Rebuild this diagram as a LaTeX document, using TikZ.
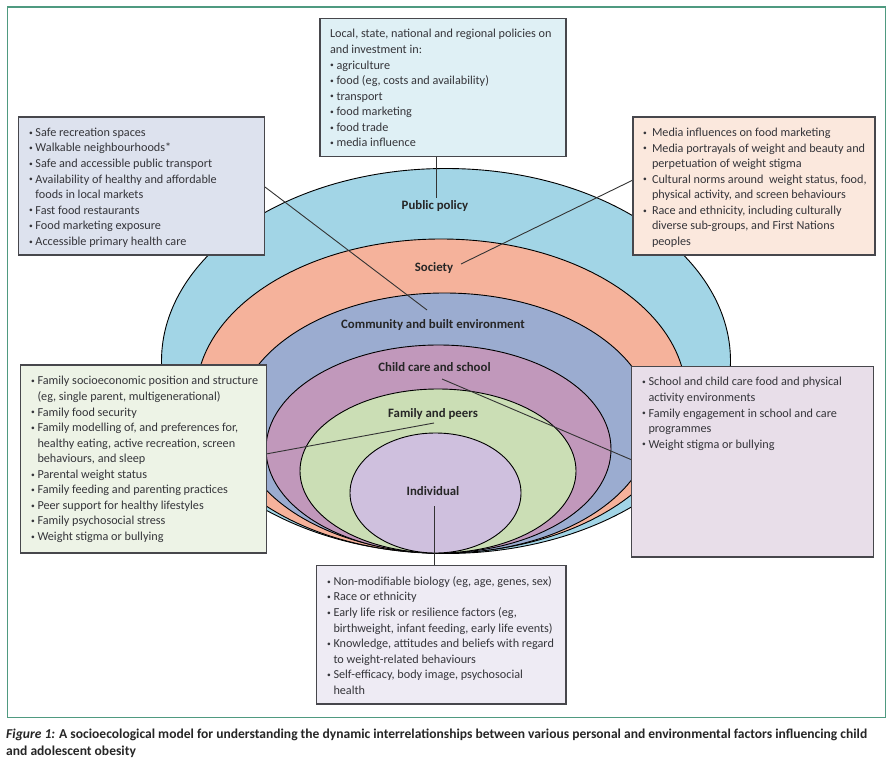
\documentclass[tikz,border=0pt]{standalone}
\usepackage{fontspec}
\setmainfont{Carlito}
\usetikzlibrary{shapes.geometric}
\definecolor{frameC}{HTML}{4F9A80}
\definecolor{inkC}{HTML}{35353A}
\definecolor{edgeC}{HTML}{47474C}
\definecolor{cA}{HTML}{A2D5E6}
\definecolor{cB}{HTML}{F5B29B}
\definecolor{cC}{HTML}{9BACD0}
\definecolor{cD}{HTML}{C198BB}
\definecolor{cE}{HTML}{CBDEB5}
\definecolor{cF}{HTML}{CFC0DE}
\definecolor{bA}{HTML}{DFF0F5}
\definecolor{bB}{HTML}{FBE8DD}
\definecolor{bC}{HTML}{DDE2EE}
\definecolor{bD}{HTML}{E8DEE9}
\definecolor{bE}{HTML}{EDF3E6}
\definecolor{bF}{HTML}{EEEBF4}
\newcommand{\bulw}{6.5pt}
\newcommand{\bul}[1]{\par\hangindent=\bulw\hangafter=1\noindent\makebox[\bulw][l]{\raisebox{1.2pt}{\fontsize{7.5pt}{8pt}\selectfont •}}#1}
% width, height, left pad, top pad, text
\newcommand{\boxtext}[5]{\parbox[t][#2pt][t]{#1pt}{\fontsize{12.2pt}{15.55pt}\selectfont\color{inkC}\leftskip=#3pt\rightskip=0pt plus 1fil\parindent=0pt\vspace*{#4pt}#5}}
\tikzset{
  ring/.style={ellipse,draw=black,line width=0.9pt,inner sep=0pt,outer sep=0pt},
  factor/.style={draw=edgeC,line width=1.2pt,inner sep=0pt,outer sep=0pt,anchor=north west},
  ringlabel/.style={font=\fontsize{12.8pt}{14pt}\selectfont\bfseries,text=black!85,inner sep=0pt},
  link/.style={draw=black!80,line width=0.9pt}
}
\begin{document}
\begin{tikzpicture}[x=1pt,y=-1pt]
\useasboundingbox (0,0) rectangle (891,762);
\fill[white] (0,0) rectangle (891,762);
\node[draw=frameC,line width=1.2pt,minimum width=878.5pt,minimum height=710.5pt,inner sep=0pt,anchor=north west] (frame) at (6.5,6.5) {};
% rings
\node[ring,fill=cA,minimum width=569pt,minimum height=385pt] (r1) at (446,361) {};
\node[ring,fill=cB,minimum width=490pt,minimum height=314pt] (r2) at (441,396) {};
\node[ring,fill=cC,minimum width=416pt,minimum height=260pt] (r3) at (444.5,423) {};
\node[ring,fill=cD,minimum width=345pt,minimum height=208pt] (r4) at (438.5,449) {};
\node[ring,fill=cE,minimum width=276pt,minimum height=164pt] (r5) at (438,471) {};
\node[ring,fill=cF,minimum width=171pt,minimum height=120pt] (r6) at (435.5,493) {};
% ring labels
\node[ringlabel] (l1) at (435,206) {Public policy};
\node[ringlabel] (l2) at (434,268) {Society};
\node[ringlabel] (l3) at (433,325) {Community and built environment};
\node[ringlabel] (l4) at (434.5,367) {Child care and school};
\node[ringlabel] (l5) at (433,414) {Family and peers};
\node[ringlabel] (l6) at (433,491) {Individual};
% free ends of the connectors
\coordinate (e1) at (436,198);
\coordinate (e2) at (461,264);
\coordinate (e3) at (427,310);
\coordinate (e4) at (442,379);
\coordinate (e5) at (434,423);
\coordinate (e6) at (434.5,505.5);
\coordinate (s1) at (436,157);
\coordinate (s2) at (633,180);
\coordinate (s3) at (265,187);
\coordinate (s4) at (632,460);
\coordinate (s5) at (266,454);
\coordinate (s6) at (434.5,565);
\draw[link] (s1) -- (e1);
\draw[link] (s2) -- (e2);
\draw[link] (s3) -- (e3);
\draw[link] (s4) -- (e4);
\draw[link] (s5) -- (e5);
\draw[link] (s6) -- (e6);
% factor boxes
\node[factor,fill=bA] (policy) at (320,18.5) {\boxtext{246}{138}{10}{11}{%
Local, state, national and regional policies on\\
and investment in:
\bul{agriculture}
\bul{food (eg, costs and availability)}
\bul{transport}
\bul{food marketing}
\bul{food trade}
\bul{media influence}}};
\node[factor,fill=bC] (community) at (18.5,117) {\boxtext{246}{138}{10.5}{11}{%
\bul{Safe recreation spaces}
\bul{Walkable neighbourhoods*}
\bul{Safe and accessible public transport}
\bul{Availability of healthy and affordable\\foods in local markets}
\bul{Fast food restaurants}
\bul{Food marketing exposure}
\bul{Accessible primary health care}}};
\node[factor,fill=bB] (society) at (633,117) {\renewcommand{\bulw}{9pt}\boxtext{242}{138}{10}{11}{%
\bul{Media influences on food marketing}
\bul{Media portrayals of weight and beauty and\\perpetuation of weight stigma}
\bul{Cultural norms around\ \ weight status, food,\\physical activity, and screen behaviours}
\bul{Race and ethnicity, including culturally\\diverse sub-groups, and First Nations\\peoples}}};
\node[factor,fill=bE] (family) at (20.5,365) {\boxtext{246}{188}{10.5}{11.5}{%
\bul{Family socioeconomic position and structure\\(eg, single parent, multigenerational)}
\bul{Family food security}
\bul{Family modelling of, and preferences for,\\healthy eating, active recreation, screen\\behaviours, and sleep}
\bul{Parental weight status}
\bul{Family feeding and parenting practices}
\bul{Peer support for healthy lifestyles}
\bul{Family psychosocial stress}
\bul{Weight stigma or bullying}}};
\node[factor,fill=bD] (school) at (631.5,366.5) {\boxtext{242}{190.5}{10.5}{11}{%
\bul{School and child care food and physical\\activity environments}
\bul{Family engagement in school and care\\programmes}
\bul{Weight stigma or bullying}}};
\node[factor,fill=bF] (individual) at (316.5,565.5) {\boxtext{249.5}{138.5}{10.5}{11}{%
\bul{Non-modifiable biology (eg, age, genes, sex)}
\bul{Race or ethnicity}
\bul{Early life risk or resilience factors (eg,\\birthweight, infant feeding, early life events)}
\bul{Knowledge, attitudes and beliefs with regard\\to weight-related behaviours}
\bul{Self-efficacy, body image, psychosocial\\health}}};
% caption
\node[anchor=north west,inner sep=0pt,align=left,text=black!85,font=\fontsize{13.55pt}{17.5pt}\selectfont\bfseries] (caption) at (6,728.5) {\textit{Figure 1:} A socioecological model for understanding the dynamic interrelationships between various personal and environmental factors influencing child\\and adolescent obesity};
\end{tikzpicture}
\end{document}
